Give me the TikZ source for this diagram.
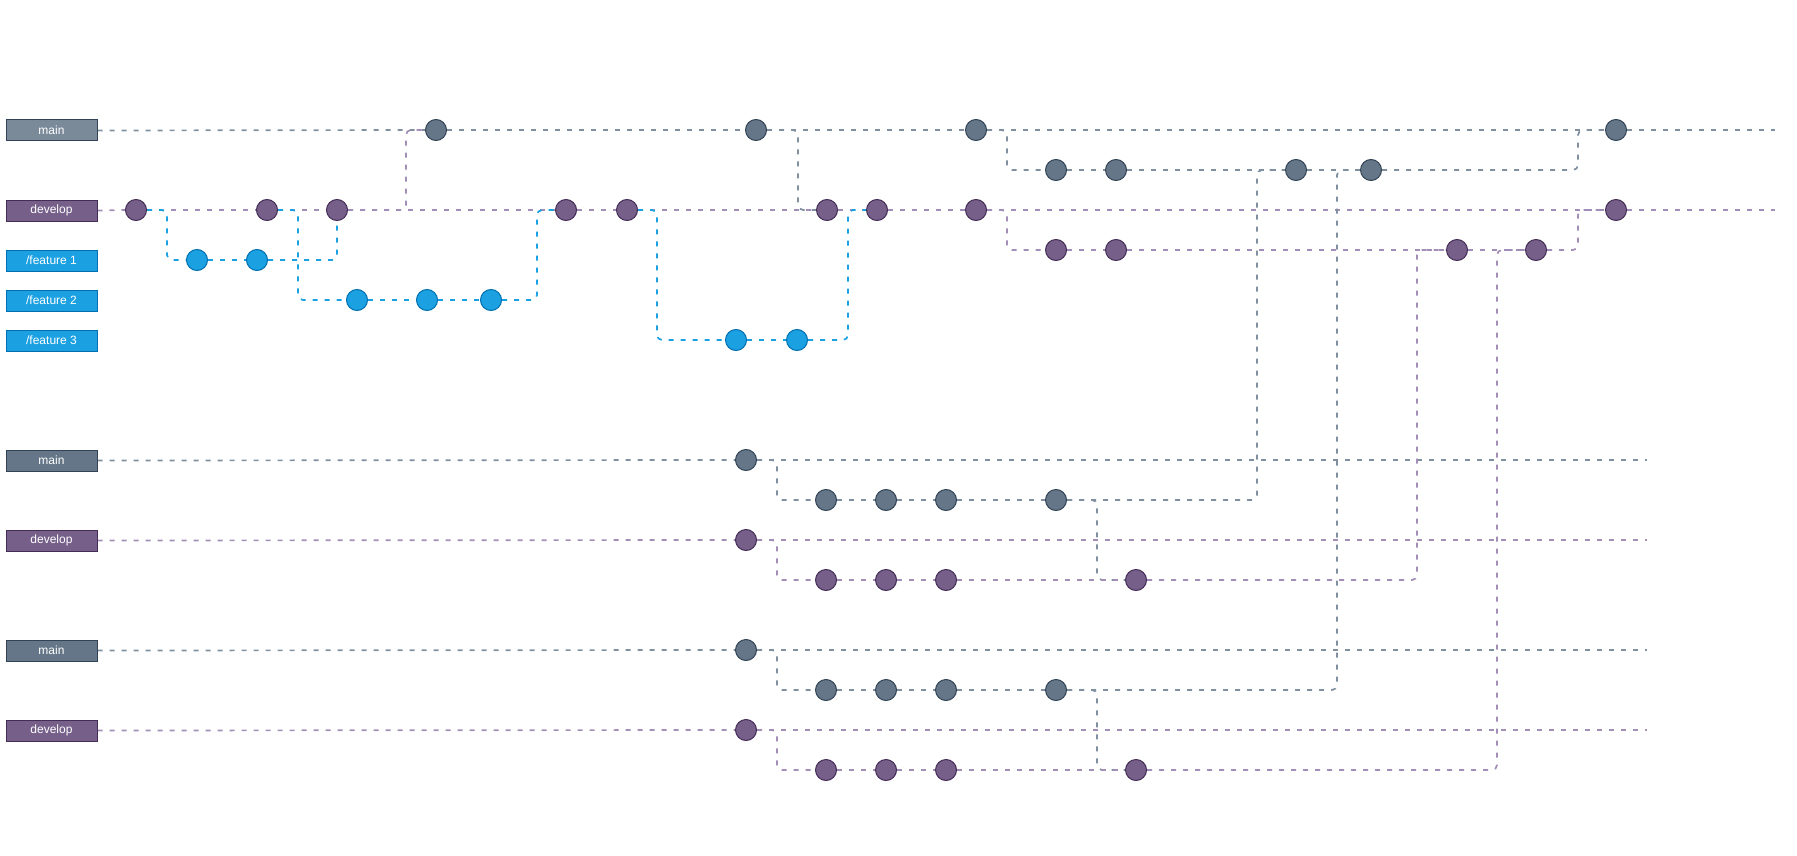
\documentclass[tikz,border=0pt]{standalone}
\usepackage{fontspec}
\setmainfont{Liberation Sans}
\usetikzlibrary{positioning}
\definecolor{mainlt}{HTML}{7A8A99}
\definecolor{mainfill}{HTML}{647687}
\definecolor{mainbd}{HTML}{314354}
\definecolor{devfill}{HTML}{76608A}
\definecolor{devbd}{HTML}{432D57}
\definecolor{featfill}{HTML}{1BA1E2}
\definecolor{featbd}{HTML}{006EAF}
\definecolor{grayline}{HTML}{8190A0}
\definecolor{purpline}{HTML}{A28EB6}
\pgfdeclarelayer{bg}
\pgfsetlayers{bg,main}
\tikzset{
  lbl/.style={draw, line width=1pt, minimum width=91pt, minimum height=21pt, inner sep=0pt, text=white, font=\fontsize{12}{14}\selectfont},
  mlbl/.style={lbl, fill=mainfill, draw=mainbd},
  mlbltop/.style={lbl, fill=mainlt, draw=mainbd},
  dlbl/.style={lbl, fill=devfill, draw=devbd},
  flbl/.style={lbl, fill=featfill, draw=featbd},
  commitbase/.style={circle, line width=1pt, minimum size=21pt, inner sep=0pt},
  mc/.style={commitbase, fill=mainfill, draw=mainbd},
  dc/.style={commitbase, fill=devfill, draw=devbd},
  fc/.style={commitbase, fill=featfill, draw=featbd},
  gitline/.style={line width=1.7pt, dash pattern=on 5pt off 7pt, rounded corners=5pt},
  gl/.style={gitline, draw=grayline},
  pl/.style={gitline, draw=purpline},
  bl/.style={gitline, draw=featfill},
}
\begin{document}
\begin{tikzpicture}[x=1pt, y=-1pt]
\useasboundingbox (0,0) rectangle (1797,856);

% ---------- labels ----------
\node[mlbltop] (Lm) at (51.5,130.5) {main};
\node[dlbl] (Ld) at (51.5,210.5) {develop};
\node[flbl] (Lf1) at (51.5,260.5) {/feature 1};
\node[flbl] (Lf2) at (51.5,300.5) {/feature 2};
\node[flbl] (Lf3) at (51.5,340.5) {/feature 3};
\node[mlbl] (Lm2) at (51.5,460.5) {main};
\node[dlbl] (Ld2) at (51.5,540.5) {develop};
\node[mlbl] (Lm3) at (51.5,650.5) {main};
\node[dlbl] (Ld3) at (51.5,730.5) {develop};

% ---------- top section commits ----------
\node[mc] (M1) at (436,130) {};
\node[mc] (M2) at (756,130) {};
\node[mc] (M3) at (976,130) {};
\node[mc] (M4) at (1616,130) {};
\node[dc] (D1) at (136,210) {};
\node[dc] (D2) at (267,210) {};
\node[dc] (D3) at (337,210) {};
\node[dc] (D4) at (566,210) {};
\node[dc] (D5) at (627,210) {};
\node[dc] (D6) at (827,210) {};
\node[dc] (D7) at (877,210) {};
\node[dc] (D8) at (976,210) {};
\node[dc] (D9) at (1616,210) {};
\node[fc] (F1a) at (197,260) {};
\node[fc] (F1b) at (257,260) {};
\node[fc] (F2a) at (357,300) {};
\node[fc] (F2b) at (427,300) {};
\node[fc] (F2c) at (491,300) {};
\node[fc] (F3a) at (736,340) {};
\node[fc] (F3b) at (797,340) {};
\node[mc] (MS1) at (1056,170) {};
\node[mc] (MS2) at (1116,170) {};
\node[mc] (MS3) at (1296,170) {};
\node[mc] (MS4) at (1371,170) {};
\node[dc] (DS1) at (1056,250) {};
\node[dc] (DS2) at (1116,250) {};
\node[dc] (DS3) at (1457,250) {};
\node[dc] (DS4) at (1536,250) {};
\coordinate (Mend) at (1775,130);
\coordinate (Dend) at (1775,210);

% ---------- section 2 ----------
\node[mc] (AM) at (746,460) {};
\node[mc] (AMS1) at (826,500) {};
\node[mc] (AMS2) at (886,500) {};
\node[mc] (AMS3) at (946,500) {};
\node[mc] (AMS4) at (1056,500) {};
\node[dc] (AD) at (746,540) {};
\node[dc] (ADS1) at (826,580) {};
\node[dc] (ADS2) at (886,580) {};
\node[dc] (ADS3) at (946,580) {};
\node[dc] (ADS4) at (1136,580) {};
\coordinate (AMend) at (1647,460);
\coordinate (ADend) at (1647,540);

% ---------- section 3 ----------
\node[mc] (BM) at (746,650) {};
\node[mc] (BMS1) at (826,690) {};
\node[mc] (BMS2) at (886,690) {};
\node[mc] (BMS3) at (946,690) {};
\node[mc] (BMS4) at (1056,690) {};
\node[dc] (BD) at (746,730) {};
\node[dc] (BDS1) at (826,770) {};
\node[dc] (BDS2) at (886,770) {};
\node[dc] (BDS3) at (946,770) {};
\node[dc] (BDS4) at (1136,770) {};
\coordinate (BMend) at (1647,650);
\coordinate (BDend) at (1647,730);

\begin{pgfonlayer}{bg}
% main / develop trunks (top)
\draw[gl] (Lm.east) -- (M1.west);
\draw[gl] (M1) -- (M2) -- (M3) -- (M4) -- (Mend);
\draw[pl] (Ld.east) -- (D1.west);
\draw[pl] (D1) -- (D2) -- (D3) -- (D4) -- (D5) -- (D6) -- (D7) -- (D8) -- (D9) -- (Dend);
% features
\draw[bl] (D1.east) -- ++(20,0) |- (F1a.west);
\draw[bl] (F1a) -- (F1b);
\draw[bl] (F1b.east) -| (D3.south);
\draw[bl] (D2.east) -- ++(20,0) |- (F2a.west);
\draw[bl] (F2a) -- (F2b) -- (F2c);
\draw[bl] (F2c.east) -- ++(35,0) |- (D4.west);
\draw[bl] (D5.east) -- ++(19,0) |- (F3a.west);
\draw[bl] (F3a) -- (F3b);
\draw[bl] (F3b.east) -- ++(40,0) |- (D7.west);
% merges between main and develop
\draw[pl] (D3.east) -- ++(58,0) |- (M1.west);
\draw[gl] (M2.east) -- ++(31,0) |- (D6.west);
% release sub-lines (top)
\draw[gl] (M3.east) -- ++(20,0) |- (MS1.west);
\draw[gl] (MS1) -- (MS2) -- (MS3) -- (MS4);
\draw[gl] (MS4.east) -- ++(196,0) |- (M4.west);
\draw[pl] (D8.east) -- ++(20,0) |- (DS1.west);
\draw[pl] (DS1) -- (DS2) -- (DS3) -- (DS4);
\draw[pl] (DS4.east) -- ++(31,0) |- (D9.west);

% section 2
\draw[gl] (Lm2.east) -- (AM.west);
\draw[gl] (AM) -- (AMend);
\draw[gl] (AM.east) -- ++(20,0) |- (AMS1.west);
\draw[gl] (AMS1) -- (AMS2) -- (AMS3) -- (AMS4);
\draw[gl] (AMS4.east) -- ++(30,0) |- (ADS4.west);
\draw[gl] (AMS4.east) -- ++(190,0) |- (MS3.west);
\draw[pl] (Ld2.east) -- (AD.west);
\draw[pl] (AD) -- (ADend);
\draw[pl] (AD.east) -- ++(20,0) |- (ADS1.west);
\draw[pl] (ADS1) -- (ADS2) -- (ADS3) -- (ADS4);
\draw[pl] (ADS4.east) -- ++(270,0) |- (DS3.west);

% section 3
\draw[gl] (Lm3.east) -- (BM.west);
\draw[gl] (BM) -- (BMend);
\draw[gl] (BM.east) -- ++(20,0) |- (BMS1.west);
\draw[gl] (BMS1) -- (BMS2) -- (BMS3) -- (BMS4);
\draw[gl] (BMS4.east) -- ++(30,0) |- (BDS4.west);
\draw[gl] (BMS4.east) -- ++(270,0) |- (MS4.west);
\draw[pl] (Ld3.east) -- (BD.west);
\draw[pl] (BD) -- (BDend);
\draw[pl] (BD.east) -- ++(20,0) |- (BDS1.west);
\draw[pl] (BDS1) -- (BDS2) -- (BDS3) -- (BDS4);
\draw[pl] (BDS4.east) -- ++(350,0) |- (DS4.west);
\end{pgfonlayer}
\end{tikzpicture}
\end{document}
